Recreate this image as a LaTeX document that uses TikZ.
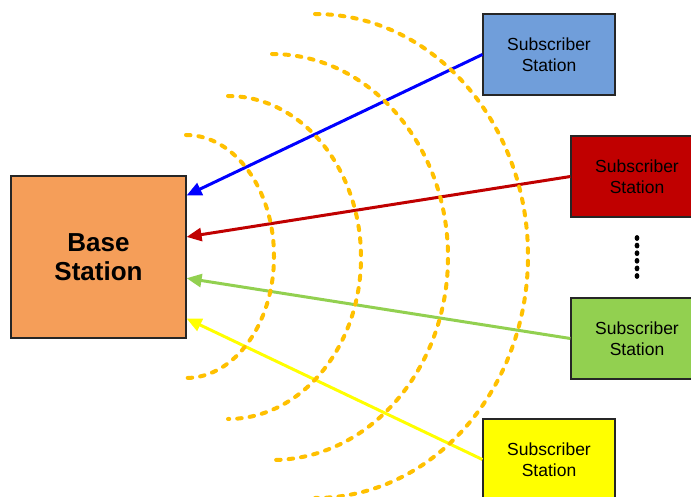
\documentclass[tikz,border=0pt]{standalone}
\usepackage{fontspec}
\setmainfont{Liberation Sans}
\usetikzlibrary{arrows.meta,calc}
\definecolor{bsfill}{RGB}{245,158,89}
\definecolor{ssblue}{RGB}{112,158,218}
\definecolor{ssred}{RGB}{192,0,0}
\definecolor{ssgreen}{RGB}{146,208,80}
\definecolor{ssyellow}{RGB}{255,255,0}
\definecolor{wavegold}{RGB}{255,192,0}
\begin{document}
\begin{tikzpicture}[x=1pt,y=-1pt,
  station/.style={draw=black!85,line width=1.2pt,minimum width=132pt,minimum height=81pt,
    inner sep=0pt,align=center,font=\fontsize{17.5}{20.5}\selectfont},
  base/.style={draw=black!85,line width=1.2pt,fill=bsfill,minimum width=175pt,minimum height=162pt,
    inner sep=0pt,align=center,font=\fontsize{26}{29.5}\selectfont\bfseries},
  link/.style={line width=3pt,-{Triangle[length=15pt,width=13pt]}},
  wavearc/.style={draw=wavegold,line width=4pt,line cap=round,dash pattern=on 4.5pt off 8pt}
]
\useasboundingbox (0,0) rectangle (691,497);

% base station and subscriber stations
\node[base] (bs) at (98.5,257) {Base\\Station};
\node[station,fill=ssblue]   (s1) at (549,54.5)  {Subscriber\\Station};
\node[station,fill=ssred]    (s2) at (637,176.5) {Subscriber\\Station};
\node[station,fill=ssgreen]  (s3) at (637,338.5) {Subscriber\\Station};
\node[station,fill=ssyellow] (s4) at (549,459.5) {Subscriber\\Station};

% arrival points on the base station
\coordinate (t1) at ($(bs.north east)!0.123!(bs.south east)$);
\coordinate (t2) at ($(bs.north east)!0.377!(bs.south east)$);
\coordinate (t3) at ($(bs.north east)!0.630!(bs.south east)$);
\coordinate (t4) at ($(bs.north east)!0.877!(bs.south east)$);

% uplinks
\draw[link,blue]     (s1.west) -- (t1);
\draw[link,ssred]    (s2.west) -- (t2);
\draw[link,ssgreen]  (s3.west) -- (t3);
\draw[link,ssyellow] (s4.west) -- (t4);

% radio wavefronts
\draw[wavearc] (186,135) arc[start angle=90,end angle=-90,x radius=88pt,y radius=121.5pt];
\draw[wavearc] (228,96)  arc[start angle=90,end angle=-90,x radius=133pt,y radius=161.5pt];
\draw[wavearc] (272,54)  arc[start angle=90,end angle=-90,x radius=176pt,y radius=203pt];
\draw[wavearc] (315,14)  arc[start angle=90,end angle=-90,x radius=213pt,y radius=242pt];

% vertical ellipsis between stations
\foreach \i in {0,...,5}
  \fill (637,{238+7.6*\i}) ellipse (2.4pt and 2.9pt);
\end{tikzpicture}
\end{document}
